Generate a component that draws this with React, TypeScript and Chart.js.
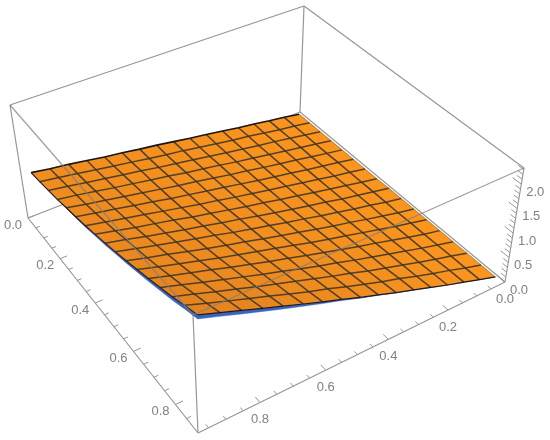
import React, { useEffect, useRef } from "react";
import { Chart, registerables } from "chart.js";

Chart.register(...registerables);

// --- Data ---
const xGrid = [0.01, 0.064, 0.118, 0.172, 0.226, 0.28, 0.335, 0.389, 0.443, 0.497, 0.551, 0.605, 0.659, 0.713, 0.767, 0.821, 0.875];
const yGrid = [0.011, 0.07, 0.128, 0.187, 0.246, 0.305, 0.365, 0.424, 0.482, 0.541, 0.6, 0.659, 0.718, 0.776, 0.835, 0.894, 0.953];
const heights = [
  [0.01, 0.01, 0.01, 0.01, 0.01, 0.01, 0.01, 0.01, 0.02, 0.02, 0.02, 0.02, 0.02, 0.02, 0.02, 0.02, 0.02],
  [0.07, 0.07, 0.07, 0.07, 0.07, 0.08, 0.08, 0.08, 0.09, 0.09, 0.09, 0.1, 0.1, 0.11, 0.12, 0.12, 0.13],
  [0.12, 0.12, 0.13, 0.13, 0.13, 0.14, 0.14, 0.15, 0.16, 0.17, 0.17, 0.18, 0.19, 0.2, 0.21, 0.23, 0.24],
  [0.18, 0.18, 0.19, 0.19, 0.2, 0.2, 0.21, 0.22, 0.23, 0.24, 0.25, 0.27, 0.28, 0.3, 0.31, 0.33, 0.35],
  [0.23, 0.24, 0.24, 0.25, 0.26, 0.27, 0.28, 0.29, 0.31, 0.32, 0.34, 0.36, 0.38, 0.4, 0.42, 0.44, 0.47],
  [0.29, 0.29, 0.3, 0.31, 0.32, 0.33, 0.35, 0.37, 0.38, 0.4, 0.42, 0.45, 0.47, 0.5, 0.52, 0.56, 0.59],
  [0.35, 0.35, 0.36, 0.37, 0.39, 0.4, 0.42, 0.44, 0.46, 0.49, 0.51, 0.54, 0.57, 0.6, 0.63, 0.67, 0.71],
  [0.4, 0.41, 0.42, 0.44, 0.45, 0.47, 0.49, 0.52, 0.54, 0.57, 0.6, 0.63, 0.67, 0.71, 0.75, 0.79, 0.84],
  [0.46, 0.47, 0.48, 0.5, 0.52, 0.54, 0.56, 0.59, 0.62, 0.66, 0.69, 0.73, 0.77, 0.81, 0.86, 0.91, 0.96],
  [0.52, 0.52, 0.54, 0.56, 0.59, 0.61, 0.64, 0.67, 0.71, 0.74, 0.78, 0.83, 0.88, 0.92, 0.98, 1.04, 1.1],
  [0.57, 0.58, 0.6, 0.63, 0.65, 0.68, 0.71, 0.75, 0.79, 0.83, 0.88, 0.93, 0.98, 1.04, 1.1, 1.16, 1.23],
  [0.63, 0.64, 0.67, 0.69, 0.72, 0.75, 0.79, 0.83, 0.88, 0.93, 0.97, 1.03, 1.09, 1.15, 1.22, 1.29, 1.37],
  [0.68, 0.7, 0.73, 0.76, 0.79, 0.83, 0.87, 0.92, 0.96, 1.02, 1.07, 1.13, 1.2, 1.27, 1.34, 1.43, 1.51],
  [0.74, 0.76, 0.79, 0.82, 0.86, 0.9, 0.95, 1.0, 1.05, 1.11, 1.17, 1.24, 1.32, 1.39, 1.47, 1.56, 1.65],
  [0.8, 0.82, 0.85, 0.89, 0.93, 0.98, 1.03, 1.08, 1.14, 1.21, 1.28, 1.35, 1.43, 1.51, 1.6, 1.7, 1.8],
  [0.85, 0.88, 0.92, 0.96, 1.0, 1.05, 1.11, 1.17, 1.24, 1.31, 1.38, 1.46, 1.55, 1.64, 1.74, 1.84, 1.95],
  [0.91, 0.94, 0.98, 1.02, 1.08, 1.13, 1.19, 1.26, 1.33, 1.41, 1.49, 1.58, 1.67, 1.77, 1.87, 1.99, 2.1],
];
// Underside visible below the two front edges of the sheet
const rimAlongX = [0, 0, 0, 0, 0.012, 0.02, 0.03, 0.035, 0.04, 0.045, 0.05, 0.055, 0.06, 0.065, 0.07, 0.075, 0.08];
const rimAlongY = [0, 0, 0, 0, 0, 0, 0.005, 0.01, 0.015, 0.025, 0.035, 0.045, 0.055, 0.06, 0.07, 0.075, 0.08];

const xMajor = [0.0, 0.2, 0.4, 0.6, 0.8];
const xMinor = [0.05, 0.1, 0.15, 0.25, 0.3, 0.35, 0.45, 0.5, 0.55, 0.65, 0.7, 0.75, 0.85];
const yMajor = [0.0, 0.2, 0.4, 0.6, 0.8];
const yMinor = [0.05, 0.1, 0.15, 0.25, 0.3, 0.35, 0.45, 0.5, 0.55, 0.65, 0.7, 0.75, 0.85, 0.9, 0.95];
const heightMajor = [0.0, 0.5, 1.0, 1.5, 2.0];
const heightMinor = [0.1, 0.2, 0.3, 0.4, 0.6, 0.7, 0.8, 0.9, 1.1, 1.2, 1.3, 1.4, 1.6, 1.7, 1.8, 1.9, 2.1, 2.2, 2.3];

const X_MAX = 0.9;
const Y_MAX = 0.98;
const Z_MAX = 2.33;

// --- Camera: box corners as seen in the view (back, right, front, left) ---
const floorQuad = [[300, 112], [505, 282], [198, 433], [28, 218]];
const roofQuad = [[304, 6], [524, 168], [193, 315], [10, 105]];

function homography(q: number[][]) {
  const [[x0, y0], [x1, y1], [x2, y2], [x3, y3]] = q;
  const dx1 = x1 - x2, dx2 = x3 - x2, sx = x0 - x1 + x2 - x3;
  const dy1 = y1 - y2, dy2 = y3 - y2, sy = y0 - y1 + y2 - y3;
  const den = dx1 * dy2 - dx2 * dy1;
  const g = (sx * dy2 - dx2 * sy) / den;
  const h = (dx1 * sy - sx * dy1) / den;
  const a = x1 - x0 + g * x1, b = x3 - x0 + h * x3;
  const d = y1 - y0 + g * y1, e = y3 - y0 + h * y3;
  return (s: number, t: number) => {
    const w = g * s + h * t + 1;
    return [(a * s + b * t + x0) / w, (d * s + e * t + y0) / w];
  };
}
const floorMap = homography(floorQuad);
const roofMap = homography(roofQuad);

function project(x: number, y: number, z: number) {
  const s = x / X_MAX, t = y / Y_MAX, k = z / Z_MAX;
  const f = floorMap(s, t), r = roofMap(s, t);
  return { x: f[0] + (r[0] - f[0]) * k, y: f[1] + (r[1] - f[1]) * k };
}

type Pt = { x: number; y: number };
const BOX = "rgb(150,150,150)";
const OVER = "rgba(125,125,125,0.75)";
const TICK = "rgb(150,150,150)";
const LABEL = "rgb(128,128,128)";

function stroke(data: Pt[], color: string, width: number) {
  return { data, showLine: true, borderColor: color, borderWidth: width, pointRadius: 0, tension: 0, fill: false, backgroundColor: "transparent" };
}
function polygon(data: Pt[], color: string) {
  return { data: [...data, data[0]], showLine: true, borderColor: color, borderWidth: 0.4, pointRadius: 0, tension: 0, fill: "shape", backgroundColor: color };
}
function edge(a: number[], b: number[], color = BOX, w = 1.2) {
  return stroke([project(a[0], a[1], a[2]), project(b[0], b[1], b[2])], color, w);
}

function cellColor(z: number) {
  const k = Math.min(1, z / 2.1);
  return `rgb(${Math.round(250 - 26 * k)},${Math.round(149 - 20 * k)},${Math.round(30 + 2 * k)})`;
}

function buildDatasets() {
  const mx = X_MAX, my = Y_MAX, T = Z_MAX;
  const layers: any[] = [];
  // Box edges behind the sheet
  layers.push(edge([0, my, 0], [0, 0, 0]), edge([0, 0, 0], [mx, 0, 0]), edge([0, 0, 0], [0, 0, T]));
  layers.push(edge([0, my, 0], [0, my, T]), edge([mx, 0, 0], [mx, 0, T]), edge([mx, my, 0], [mx, my, T]));
  layers.push(edge([0, my, T], [0, 0, T]), edge([0, 0, T], [mx, 0, T]));
  layers.push(edge([0, my, 0], [mx, my, 0]), edge([mx, 0, 0], [mx, my, 0]));
  // Ticks
  const tick = (a: number[], b: number[]) => layers.push(stroke([project(a[0], a[1], a[2]), project(b[0], b[1], b[2])], TICK, 1));
  xMajor.forEach((v) => tick([v, my, 0], [v, my - 0.022, 0]));
  yMajor.forEach((v) => tick([mx, v, 0], [mx - 0.02, v, 0]));
  xMinor.forEach((v) => tick([v, my, 0], [v, my - 0.013, 0]));
  yMinor.forEach((v) => tick([mx, v, 0], [mx - 0.012, v, 0]));
  heightMajor.forEach((v) => tick([mx, 0, v], [mx - 0.03, 0, v]));
  heightMinor.forEach((v) => tick([mx, 0, v], [mx - 0.018, 0, v]));

  // Underside rim
  const n = xGrid.length - 1;
  const rimA = xGrid.map((x, i) => project(x, yGrid[n], heights[n][i]));
  const rimB = xGrid.map((x, i) => project(x, yGrid[n], heights[n][i] - rimAlongX[i]));
  layers.push(polygon([...rimA, ...rimB.reverse()], "rgb(58,100,190)"));
  const rimC = yGrid.map((y, j) => project(xGrid[n], y, heights[j][n]));
  const rimD = yGrid.map((y, j) => project(xGrid[n], y, heights[j][n] - rimAlongY[j]));
  layers.push(polygon([...rimC, ...rimD.reverse()], "rgb(58,100,190)"));

  // Surface cells
  for (let j = 0; j < n; j++) {
    for (let i = 0; i < n; i++) {
      layers.push(polygon([
        project(xGrid[i], yGrid[j], heights[j][i]),
        project(xGrid[i + 1], yGrid[j], heights[j][i + 1]),
        project(xGrid[i + 1], yGrid[j + 1], heights[j + 1][i + 1]),
        project(xGrid[i], yGrid[j + 1], heights[j + 1][i]),
      ], cellColor(heights[j][i])));
    }
  }
  // Mesh
  const MESH = "rgba(62,50,38,0.88)";
  for (let j = 1; j < n; j++) layers.push(stroke(xGrid.map((x, i) => project(x, yGrid[j], heights[j][i])), MESH, 1.5));
  for (let i = 1; i < n; i++) layers.push(stroke(yGrid.map((y, j) => project(xGrid[i], y, heights[j][i])), MESH, 1.5));
  // Sheet outline
  layers.push(stroke(yGrid.map((y, j) => project(xGrid[0], y, heights[j][0])), "rgb(25,22,22)", 1.6));
  layers.push(stroke(xGrid.map((x, i) => project(x, yGrid[n], heights[n][i])), "rgb(30,30,45)", 1.1));
  layers.push(stroke(yGrid.map((y, j) => project(xGrid[n], y, heights[j][n])), "rgb(25,25,40)", 1.2));
  layers.push(stroke(xGrid.map((x, i) => project(x, yGrid[0], heights[0][i])), "rgba(120,90,40,0.7)", 0.8));

  // Box edges in front of the sheet
  layers.push(edge([0, my, T], [mx, my, T], OVER), edge([mx, 0, T], [mx, my, T], OVER));
  // Chart.js paints lower "order" last, so number them by paint sequence
  const total = layers.length;
  layers.forEach((d, idx) => { d.order = total - idx; });
  return layers;
}

const axisLabels = {
  id: "axisLabels",
  afterDatasetsDraw(chart: any) {
    const { ctx, scales } = chart;
    ctx.save();
    ctx.font = "13px 'Liberation Sans'";
    ctx.fillStyle = LABEL;
    ctx.textAlign = "center";
    ctx.textBaseline = "middle";
    const put = (p: Pt, dx: number, dy: number, t: string) =>
      ctx.fillText(t, scales.x.getPixelForValue(p.x) + dx, scales.y.getPixelForValue(p.y) + dy);
    xMajor.forEach((v) => put(project(v, Y_MAX, 0), -15, 7, v.toFixed(1)));
    yMajor.forEach((v) => put(project(X_MAX, v, 0), 0, 17, v.toFixed(1)));
    heightMajor.forEach((v) => put(project(X_MAX, 0, v), 14, 8, v.toFixed(1)));
    ctx.restore();
  },
};

export default function App() {
  const ref = useRef<HTMLCanvasElement>(null);
  useEffect(() => {
    const chart = new Chart(ref.current!, {
      type: "scatter",
      data: { datasets: buildDatasets() },
      plugins: [axisLabels],
      options: {
        animation: false,
        responsive: false,
        layout: { padding: 0 },
        plugins: { legend: { display: false }, tooltip: { enabled: false }, title: { display: false } },
        scales: {
          x: { type: "linear", min: 0, max: 550, display: false },
          y: { type: "linear", min: 0, max: 440, reverse: true, display: false },
        },
      },
    } as any);
    return () => chart.destroy();
  }, []);
  return (
    <div style={{ position: "absolute", left: 0, top: 0, width: 550, height: 440, background: "#fff" }}>
      <canvas ref={ref} width={550} height={440} style={{ display: "block" }} />
    </div>
  );
}
